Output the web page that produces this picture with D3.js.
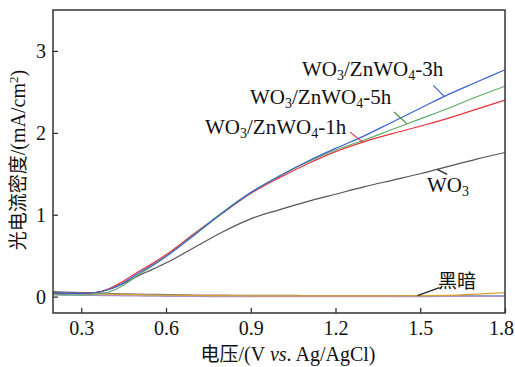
<!DOCTYPE html>
<html>
<head>
<meta charset="utf-8">
<script src="https://cdn.jsdelivr.net/npm/d3@7"></script>
<style>
  body { margin: 0; background: #fff; }
  text { font-family: "Liberation Serif", "Times New Roman", serif; fill: #111; }
  .cjk { font-family: "Noto Sans CJK SC", sans-serif; }
</style>
</head>
<body>
<svg id="chart"></svg>
<script>
const width = 515;
const height = 367;
const svg = d3.select("#chart").attr("width", width).attr("height", height);

const margin = { left: 53, right: 10, top: 10, bottom: 54 };

// voltage samples (V vs. Ag/AgCl)
const voltage = [0.2, 0.25, 0.3, 0.35, 0.4, 0.45, 0.5, 0.55, 0.6, 0.7, 0.8, 0.9, 1.0, 1.1, 1.2, 1.3, 1.4, 1.5, 1.6, 1.7, 1.8];

// photocurrent density (mA/cm2)
const wo3   = [0.05, 0.04, 0.04, 0.05, 0.09, 0.16, 0.25, 0.33, 0.41, 0.60, 0.79, 0.95, 1.06, 1.16, 1.25, 1.34, 1.42, 1.50, 1.59, 1.68, 1.76];
const zn1h  = [0.05, 0.04, 0.04, 0.05, 0.10, 0.19, 0.30, 0.40, 0.51, 0.77, 1.02, 1.26, 1.45, 1.62, 1.77, 1.89, 1.99, 2.08, 2.18, 2.29, 2.40];
const zn3h  = [0.05, 0.04, 0.04, 0.05, 0.09, 0.17, 0.28, 0.38, 0.49, 0.75, 1.02, 1.27, 1.47, 1.65, 1.81, 1.96, 2.13, 2.30, 2.47, 2.62, 2.77];
const zn5h  = [0.03, 0.02, 0.02, 0.03, 0.06, 0.14, 0.26, 0.37, 0.49, 0.76, 1.03, 1.27, 1.47, 1.64, 1.79, 1.91, 2.04, 2.17, 2.30, 2.44, 2.57];

// dark current curves
const darkA = [0.06, 0.055, 0.05, 0.045, 0.04, 0.035, 0.03, 0.028, 0.025, 0.02, 0.018, 0.016, 0.015, 0.014, 0.013, 0.012, 0.012, 0.012, 0.012, 0.013, 0.014];
const darkB = [0.04, 0.038, 0.035, 0.032, 0.03, 0.027, 0.024, 0.02, 0.017, 0.014, 0.012, 0.01, 0.01, 0.01, 0.01, 0.01, 0.01, 0.012, 0.015, 0.03, 0.05];
const darkC = [0.03, 0.028, 0.026, 0.024, 0.022, 0.02, 0.018, 0.015, 0.012, 0.008, 0.006, 0.005, 0.005, 0.005, 0.005, 0.005, 0.006, 0.006, 0.007, 0.008, 0.01];
const darkD = [0.02, 0.018, 0.016, 0.014, 0.012, 0.01, 0.008, 0.006, 0.004, 0.002, 0.0, 0.0, 0.0, 0.0, 0.0, 0.0, 0.0, 0.0, 0.002, 0.003, 0.004];

const xTicks = [0.3, 0.6, 0.9, 1.2, 1.5, 1.8];
const yTicks = [0, 1, 2, 3];

const x = d3.scaleLinear().domain([0.2, 1.8]).range([margin.left, width - margin.right]);
const y = d3.scaleLinear().domain([-0.2, 3.5]).range([height - margin.bottom, margin.top]);

const series = [
  { values: darkA, color: "#777777" },
  { values: darkC, color: "#9ab8dc" },
  { values: darkD, color: "#b090c8" },
  { values: darkB, color: "#d9a030" },
  { values: wo3, color: "#555555" },
  { values: zn1h, color: "#e8323c" },
  { values: zn5h, color: "#5cae6a" },
  { values: zn3h, color: "#3a62cc" }
];

const line = d3.line()
  .x((d, i) => x(voltage[i]))
  .y(d => y(d))
  .curve(d3.curveMonotoneX);

const plot = svg.append("g");
plot.selectAll("path.curve")
  .data(series)
  .enter()
  .append("path")
  .attr("class", "curve")
  .attr("d", d => line(d.values))
  .attr("fill", "none")
  .attr("stroke", d => d.color)
  .attr("stroke-width", 1.2);

// axes (ticks pointing inward)
const xAxis = svg.append("g")
  .attr("transform", `translate(0,${height - margin.bottom})`)
  .call(d3.axisBottom(x).tickValues(xTicks).tickSize(-5).tickPadding(8).tickFormat(d3.format(".1f")));
const yAxis = svg.append("g")
  .attr("transform", `translate(${margin.left},0)`)
  .call(d3.axisLeft(y).tickValues(yTicks).tickSize(-5).tickPadding(7).tickFormat(d3.format("d")));

[xAxis, yAxis].forEach(a => {
  a.attr("font-family", null);
  a.select(".domain").remove();
  a.selectAll(".tick line").attr("stroke", "#222").attr("stroke-width", 1.2);
  a.selectAll(".tick text")
    .attr("font-size", 20)
    .attr("fill", "#111");
});
// keep the last x label inside the window
xAxis.selectAll(".tick text").filter(d => d === 1.8).attr("dx", -4);

// frame
svg.append("rect")
  .attr("x", margin.left)
  .attr("y", margin.top)
  .attr("width", width - margin.left - margin.right)
  .attr("height", height - margin.top - margin.bottom)
  .attr("fill", "none")
  .attr("stroke", "#333")
  .attr("stroke-width", 1.5);

// axis titles
const xTitle = svg.append("text")
  .attr("x", 288)
  .attr("y", 361)
  .attr("text-anchor", "middle")
  .attr("font-size", 20);
xTitle.append("tspan").attr("class", "cjk").attr("font-size", 19).text("电压");
xTitle.append("tspan").text("/(V ");
xTitle.append("tspan").attr("font-style", "italic").text("vs");
xTitle.append("tspan").text(". Ag/AgCl)");

const yTitle = svg.append("text")
  .attr("transform", "translate(25,160) rotate(-90)")
  .attr("text-anchor", "middle")
  .attr("font-size", 20);
yTitle.append("tspan").attr("class", "cjk").attr("font-size", 19).text("光电流密度");
yTitle.append("tspan").text("/(mA/cm");
yTitle.append("tspan").attr("font-size", 13).attr("dy", -7).text("2");
yTitle.append("tspan").attr("dy", 7).text(")");

// curve labels with leader lines
function formula(g, xPos, yPos, suffix) {
  const t = g.append("text").attr("x", xPos).attr("y", yPos).attr("font-size", 21);
  t.append("tspan").text("WO");
  t.append("tspan").attr("font-size", 14).attr("dy", 4).text("3");
  if (suffix) {
    t.append("tspan").attr("dy", -4).text("/ZnWO");
    t.append("tspan").attr("font-size", 14).attr("dy", 4).text("4");
    t.append("tspan").attr("dy", -4).text(suffix);
  }
}

const labels = [
  { vx: 1.585, suffix: "-3h", tx: 302, ty: 76, color: "#3a62cc", dx: -11, dy: -11, values: zn3h },
  { vx: 1.453, suffix: "-5h", tx: 250, ty: 104, color: "#3d8a2e", dx: -13, dy: -12, values: zn5h },
  { vx: 1.297, suffix: "-1h", tx: 205, ty: 134, color: "#e8323c", dx: -13, dy: -10, values: zn1h },
  { vx: 1.56, suffix: "", tx: 427, ty: 192, color: "#222", dx: 10, dy: 5, values: wo3 }
];

const interp = (vals, v) => {
  const i = d3.bisectLeft(voltage, v);
  const i0 = Math.max(0, i - 1);
  const t = (v - voltage[i0]) / (voltage[i] - voltage[i0]);
  return vals[i0] + t * (vals[i] - vals[i0]);
};

const lab = svg.append("g");
labels.forEach(l => {
  const px = x(l.vx), py = y(interp(l.values, l.vx));
  lab.append("line")
    .attr("x1", px).attr("y1", py)
    .attr("x2", px + l.dx).attr("y2", py + l.dy)
    .attr("stroke", l.color).attr("stroke-width", 1.2);
  formula(lab, l.tx, l.ty, l.suffix);
});

// dark label
const dv = 1.49;
lab.append("line")
  .attr("x1", x(dv)).attr("y1", y(interp(darkA, dv)))
  .attr("x2", x(dv) + 22).attr("y2", y(interp(darkA, dv)) - 8)
  .attr("stroke", "#222").attr("stroke-width", 1.2);
lab.append("text")
  .attr("class", "cjk")
  .attr("x", 438).attr("y", 288)
  .attr("font-size", 19)
  .text("黑暗");
</script>
</body>
</html>
